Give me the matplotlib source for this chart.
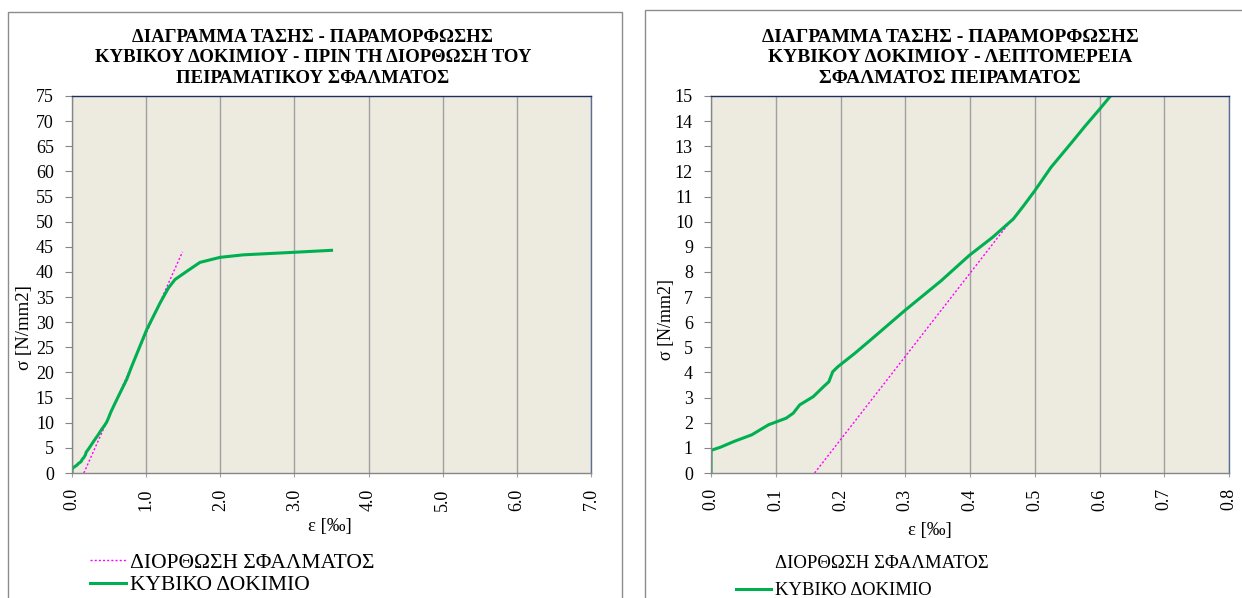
import matplotlib
matplotlib.use("Agg")
import matplotlib.pyplot as plt
from matplotlib.patches import Rectangle

# Stress-strain record of the cube specimen: strain in permille, stress in N/mm2
strain = [0.0, 0.0, 0.015, 0.036, 0.063, 0.089, 0.116, 0.127, 0.137, 0.158,
          0.174, 0.182, 0.188, 0.196, 0.222, 0.249, 0.300, 0.355, 0.399,
          0.435, 0.467, 0.483, 0.500, 0.525, 0.557, 0.578, 0.600, 0.617,
          0.737, 0.805, 1.007, 1.187, 1.300, 1.390, 1.546, 1.726, 1.996,
          2.310, 2.985, 3.500]
stress = [0.0, 0.9, 1.03, 1.26, 1.52, 1.92, 2.18, 2.38, 2.71, 3.04,
          3.44, 3.63, 4.03, 4.23, 4.76, 5.35, 6.48, 7.64, 8.66,
          9.38, 10.11, 10.64, 11.23, 12.16, 13.15, 13.81, 14.47, 15.0,
          18.6, 21.2, 28.5, 33.8, 36.8, 38.5, 40.1, 41.9, 42.9,
          43.4, 43.9, 44.3]

# Error-correction line (linear branch shifted to the strain axis)
corr_strain_full = [0.16, 1.49]
corr_stress_full = [0.0, 44.0]
corr_strain_detail = [0.16, 0.465]
corr_stress_detail = [0.0, 10.1]

# Axis ticks
x_ticks_full = [0, 1, 2, 3, 4, 5, 6, 7]
y_ticks_full = list(range(0, 80, 5))
x_ticks_detail = [0.0, 0.1, 0.2, 0.3, 0.4, 0.5, 0.6, 0.7, 0.8]
y_ticks_detail = list(range(0, 16))

title_full = ("ΔΙΑΓΡΑΜΜΑ ΤΑΣΗΣ - ΠΑΡΑΜΟΡΦΩΣΗΣ\n"
              "ΚΥΒΙΚΟΥ ΔΟΚΙΜΙΟΥ - ΠΡΙΝ ΤΗ ΔΙΟΡΘΩΣΗ ΤΟΥ\n"
              "ΠΕΙΡΑΜΑΤΙΚΟΥ ΣΦΑΛΜΑΤΟΣ")
title_detail = ("ΔΙΑΓΡΑΜΜΑ ΤΑΣΗΣ - ΠΑΡΑΜΟΡΦΩΣΗΣ\n"
                "ΚΥΒΙΚΟΥ ΔΟΚΙΜΙΟΥ - ΛΕΠΤΟΜΕΡΕΙΑ\n"
                "ΣΦΑΛΜΑΤΟΣ ΠΕΙΡΑΜΑΤΟΣ")
label_corr = "ΔΙΟΡΘΩΣΗ ΣΦΑΛΜΑΤΟΣ"
label_curve = "ΚΥΒΙΚΟ ΔΟΚΙΜΙΟ"
xlabel = "ε [‰]"
ylabel = "σ [N/mm2]"

plt.rcParams['font.family'] = ['Liberation Serif', 'DejaVu Serif']

W, H = 1242, 598
fig = plt.figure(figsize=(W / 100, H / 100), dpi=100)

GREEN = "#00B050"
MAGENTA = "#FF00FF"
PLOT_BG = "#EDEAE0"
GRID = "#A0A0A0"
AXIS_GRAY = "#868686"


def px(x, y):
    return x / W, 1 - y / H


# chart-area frames
for (x0, y0, x1, y1) in [(8, 12, 622, 604), (645, 10, 1250, 604)]:
    fig.patches.append(Rectangle((x0 / W, 1 - y1 / H), (x1 - x0) / W, (y1 - y0) / H,
                                 transform=fig.transFigure, fill=False,
                                 edgecolor="#8C8C8C", linewidth=1.0))


def make_axes(left, right, xticks, yticks, xlim, ylim, xfmt):
    l, b = px(left, 473)
    r, t = px(right, 96)
    ax = fig.add_axes([l, b, r - l, t - b])
    ax.set_facecolor(PLOT_BG)
    ax.set_xlim(*xlim)
    ax.set_ylim(*ylim)
    ax.set_xticks(xticks)
    ax.set_xticklabels([xfmt.format(v) for v in xticks], rotation=90, fontsize=13)
    ax.set_yticks(yticks)
    ax.set_yticklabels([str(v) for v in yticks], fontsize=13)
    ax.tick_params(axis='y', direction='out', length=5, color=AXIS_GRAY, pad=8)
    ax.tick_params(axis='x', direction='out', length=3, color=GRID, pad=8)
    ax.grid(axis='x', color=GRID, linewidth=1.0)
    ax.set_axisbelow(True)
    ax.spines['left'].set_color(AXIS_GRAY)
    ax.spines['bottom'].set_color(AXIS_GRAY)
    ax.spines['top'].set_color("#1F3060")
    ax.spines['right'].set_color("#5A6E9A")
    for s in ax.spines.values():
        s.set_linewidth(1.0)
    return ax


# Left chart: full curve
ax1 = make_axes(72, 591, x_ticks_full, y_ticks_full, (0, 7), (0, 75), "{:.1f}")
l_corr1, = ax1.plot(corr_strain_full, corr_stress_full, color=MAGENTA, lw=1.0,
                    linestyle=(0, (1.5, 1.5)), label=label_corr)
l_curve1, = ax1.plot(strain, stress, color=GREEN, lw=2.2, label=label_curve,
                     solid_joinstyle='round')
fig.text(*px(313, 58), title_full, ha='center', va='center', fontsize=13.5,
         fontweight='bold', linespacing=1.3)
fig.text(*px(330, 527), xlabel, ha='center', va='center', fontsize=13.5)
fig.text(*px(24, 328), ylabel, ha='center', va='center', fontsize=13.5, rotation=90)
leg1 = fig.legend(handles=[l_corr1, l_curve1], loc='center left',
                  bbox_to_anchor=px(90, 574), frameon=False, fontsize=15.5,
                  handlelength=1.67, handletextpad=0.19, labelspacing=0.1,
                  borderaxespad=0, borderpad=0)

# Right chart: detail of the initial branch
ax2 = make_axes(711, 1229, x_ticks_detail, y_ticks_detail, (0, 0.8), (0, 15), "{:.1f}")
l_corr2, = ax2.plot(corr_strain_detail, corr_stress_detail, color=MAGENTA, lw=1.0,
                    linestyle=(0, (1.5, 1.5)), label=label_corr)
l_curve2, = ax2.plot(strain, stress, color=GREEN, lw=2.2, label=label_curve,
                     solid_joinstyle='round')
fig.text(*px(950, 58), title_detail, ha='center', va='center', fontsize=14,
         fontweight='bold', linespacing=1.3)
fig.text(*px(930, 531), xlabel, ha='center', va='center', fontsize=13.5)
fig.text(*px(666, 319), ylabel, ha='center', va='center', fontsize=13, rotation=90)
leg2 = fig.legend(handles=[l_corr2, l_curve2], loc='center left',
                  bbox_to_anchor=px(736, 577), frameon=False, fontsize=13.5,
                  handlelength=1.87, handletextpad=0.2, labelspacing=0.55,
                  borderaxespad=0, borderpad=0)
leg2.get_lines()[0].set_visible(False)

fig.savefig("out.png", dpi=100, facecolor="white")
